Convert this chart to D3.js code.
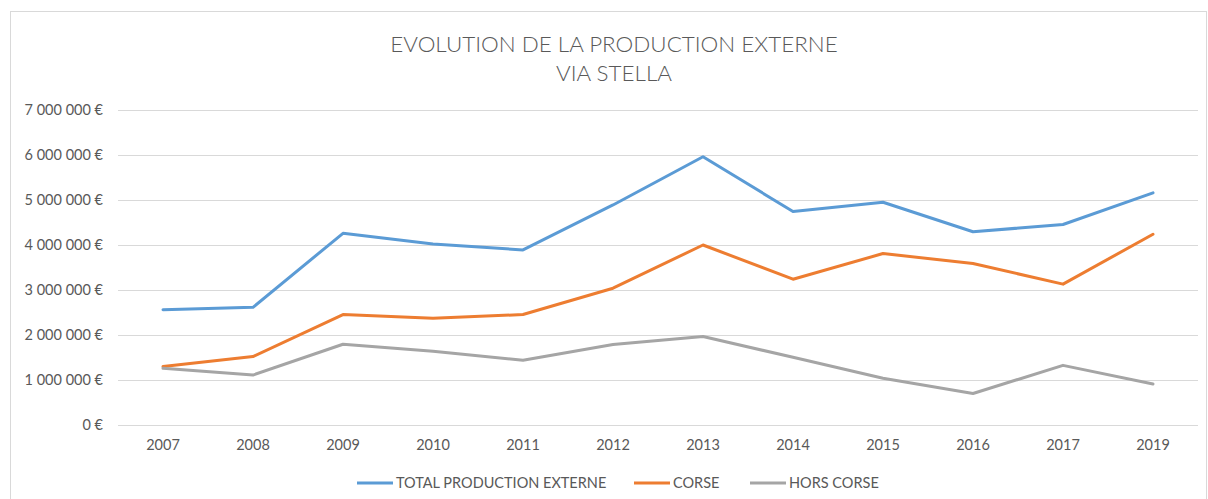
<!DOCTYPE html>
<html><head><meta charset="utf-8">
<script src="https://cdn.jsdelivr.net/npm/d3@7"></script>
<style>body{margin:0;background:#fff;}svg{display:block;font-family:Lato,"Open Sans",sans-serif;}</style>
</head><body><svg id="c" width="1208" height="499"></svg>
<script>
const years = ["2007","2008","2009","2010","2011","2012","2013","2014","2015","2016","2017","2019"];
const totalProduction = [2560000,2615000,4260000,4020000,3890000,4890000,5960000,4745000,4950000,4295000,4455000,5160000];
const corse = [1300000,1520000,2455000,2370000,2455000,3040000,4000000,3240000,3810000,3590000,3130000,4240000];
const horsCorse = [1260000,1110000,1795000,1640000,1440000,1790000,1965000,1505000,1040000,700000,1325000,910000];
const yTicks = [0,1000000,2000000,3000000,4000000,5000000,6000000,7000000];
const seriesNames = ["TOTAL PRODUCTION EXTERNE","CORSE","HORS CORSE"];
const colors = ["#5B9BD5","#ED7D31","#A5A5A5"];
const series = [totalProduction, corse, horsCorse];

const svg = d3.select("#c");
svg.append("rect").attr("x",10.5).attr("y",11.5).attr("width",1196).attr("height",500)
  .attr("fill","#fff").attr("stroke","#d9d9d9").attr("stroke-width",1);

const x = d3.scaleBand().domain(years).range([118,1198]);
const y = d3.scaleLinear().domain([0,7000000]).range([425,110]);

const fmt = v => v === 0 ? "0 €" : d3.format(",")(v).replace(/,/g," ") + " €";

const grid = svg.append("g");
grid.selectAll("line").data(yTicks).join("line")
  .attr("x1",118).attr("x2",1198)
  .attr("y1",d=>Math.round(y(d))+0.5).attr("y2",d=>Math.round(y(d))+0.5)
  .attr("stroke","#d9d9d9").attr("stroke-width",1);

const yAxis = svg.append("g").attr("transform","translate(103,0)")
  .call(d3.axisLeft(y).tickValues(yTicks).tickFormat(fmt).tickSize(0).tickPadding(0));
yAxis.select(".domain").remove();
yAxis.selectAll("text").attr("fill","#595959").style("font-size","14.5px").attr("font-family","Lato,sans-serif");

const xAxis = svg.append("g").attr("transform","translate(0,425)")
  .call(d3.axisBottom(x).tickSize(0).tickPadding(15));
xAxis.select(".domain").remove();
xAxis.selectAll("text").attr("fill","#595959").style("font-size","14.5px").attr("font-family","Lato,sans-serif");

const line = d3.line().x((d,i)=>x(years[i])+x.bandwidth()/2).y(d=>y(d));
series.forEach((s,k)=>{
  svg.append("path").datum(s).attr("d",line).attr("fill","none")
    .attr("stroke",colors[k]).attr("stroke-width",3).attr("stroke-linejoin","round").attr("stroke-linecap","round");
});

svg.append("text").attr("x",614).attr("y",52).attr("text-anchor","middle")
  .attr("fill","#595959").style("font-size","22.4px").style("font-weight","300").text("EVOLUTION DE LA PRODUCTION EXTERNE");
svg.append("text").attr("x",614).attr("y",81).attr("text-anchor","middle")
  .attr("fill","#595959").style("font-size","22.4px").style("font-weight","300").text("VIA STELLA");

const legX = [357,634,750];
const leg = svg.append("g");
seriesNames.forEach((n,k)=>{
  leg.append("line").attr("x1",legX[k]).attr("x2",legX[k]+36).attr("y1",483).attr("y2",483)
    .attr("stroke",colors[k]).attr("stroke-width",3);
  leg.append("text").attr("x",legX[k]+39).attr("y",488).attr("fill","#595959")
    .style("font-size","14.5px").text(n);
});
</script></body></html>
